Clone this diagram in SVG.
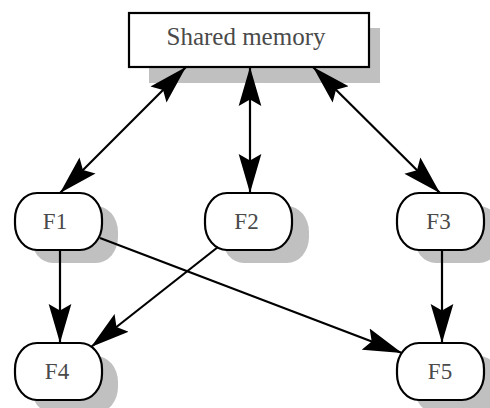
<svg xmlns="http://www.w3.org/2000/svg" width="490" height="408" viewBox="0 0 490 408">
<style>
.shadow{fill:#c0c0c0;stroke:none}
.node{fill:#fff;stroke:#000;stroke-width:2.2}
.lbl{font-family:"Liberation Serif",serif;fill:#4a4a4a;text-anchor:middle}
.edge{stroke:#000;stroke-width:2.2;fill:none}
</style>
<defs>
<marker id="ah" markerUnits="userSpaceOnUse" markerWidth="40" markerHeight="24" viewBox="-36 -11 37 22" refX="0" refY="0" orient="auto-start-reverse">
<path d="M0,0 L-36,-10.5 L-30,0 L-36,10.5 Z" fill="#000"/>
</marker>
</defs>
<rect width="490" height="408" fill="#fff"/>
<g id="shared-memory">
<rect class="shadow" x="149" y="28" width="231" height="55"/>
<rect class="node" x="129" y="13" width="240" height="54" stroke-width="2.6"/>
<text class="lbl" x="246" y="44.5" font-size="25">Shared memory</text>
</g>
<g id="F1">
<rect class="shadow" x="31" y="206" width="87" height="57" rx="22" ry="26"/>
<rect class="node" x="15" y="193" width="87" height="57" rx="22" ry="26"/>
<text class="lbl" x="55" y="228.5" font-size="23">F1</text>
</g>
<g id="F2">
<rect class="shadow" x="222" y="206" width="87" height="57" rx="22" ry="26"/>
<rect class="node" x="205" y="193" width="87" height="57" rx="22" ry="26"/>
<text class="lbl" x="246.5" y="228.5" font-size="23">F2</text>
</g>
<g id="F3">
<rect class="shadow" x="414" y="206" width="87" height="57" rx="22" ry="26"/>
<rect class="node" x="397" y="193" width="87" height="57" rx="22" ry="26"/>
<text class="lbl" x="438.5" y="228.5" font-size="23">F3</text>
</g>
<g id="F4">
<rect class="shadow" x="31" y="356" width="87" height="57" rx="22" ry="26"/>
<rect class="node" x="15" y="343" width="87" height="57" rx="22" ry="26"/>
<text class="lbl" x="57" y="378.5" font-size="23">F4</text>
</g>
<g id="F5">
<rect class="shadow" x="414" y="356" width="87" height="57" rx="22" ry="26"/>
<rect class="node" x="397" y="343" width="87" height="57" rx="22" ry="26"/>
<text class="lbl" x="440" y="378.5" font-size="23">F5</text>
</g>
<g id="connectors">
<line class="edge" x1="186" y1="67" x2="60" y2="193" marker-start="url(#ah)" marker-end="url(#ah)"/>
<line class="edge" x1="250" y1="67" x2="250" y2="193" marker-start="url(#ah)" marker-end="url(#ah)"/>
<line class="edge" x1="313" y1="67" x2="440" y2="193" marker-start="url(#ah)" marker-end="url(#ah)"/>
<line class="edge" x1="60" y1="250" x2="60" y2="343" marker-end="url(#ah)"/>
<line class="edge" x1="218" y1="247" x2="91" y2="347" marker-end="url(#ah)"/>
<line class="edge" x1="100" y1="238" x2="402" y2="353" marker-end="url(#ah)"/>
<line class="edge" x1="442" y1="250" x2="442" y2="343" marker-end="url(#ah)"/>
</g>
</svg>
